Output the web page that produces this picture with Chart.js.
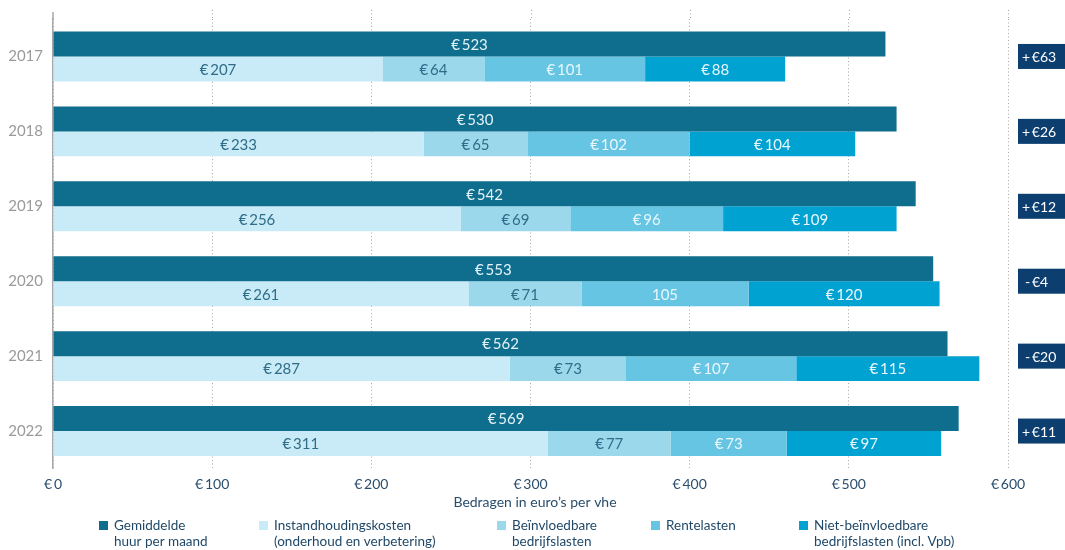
<!DOCTYPE html>
<html>
<head>
<meta charset="utf-8">
<script src="https://cdn.jsdelivr.net/npm/chart.js@4.4.1/dist/chart.umd.min.js"></script>
<style>
  html, body { margin: 0; padding: 0; background: #ffffff; }
  #wrap { width: 1065px; height: 550px; position: relative; }
</style>
</head>
<body>
<div id="wrap"><canvas id="c" width="1065" height="550"></canvas></div>
<script>
// ---- data ----
const years = ['2017', '2018', '2019', '2020', '2021', '2022'];
const huur = [523, 530, 542, 553, 562, 569];
const instandhouding = [207, 233, 256, 261, 287, 311];
const beinvloedbaar = [64, 65, 69, 71, 73, 77];
const rentelasten = [101, 102, 96, 105, 107, 73];
const nietBeinvloedbaar = [88, 104, 109, 120, 115, 97];
const xTicks = [0, 100, 200, 300, 400, 500, 600];
const legendLabels = [
  ['Gemiddelde', 'huur per maand'],
  ['Instandhoudingskosten', '(onderhoud en verbetering)'],
  ['Beïnvloedbare', 'bedrijfslasten'],
  ['Rentelasten'],
  ['Niet-beïnvloedbare', 'bedrijfslasten (incl. Vpb)']
];
const axisTitle = 'Bedragen in euro\u2019s per vhe';
// labels printed without euro sign in the original (dataset index, year index)
const noEuroLabels = [[3, 3]];

const FONT = 'Lato, "Open Sans", sans-serif';
const colors = ['#0f6e8d', '#c9eaf7', '#9bd8ec', '#66c5e3', '#00a2d2'];
const labelColors = ['#e3f2f8', '#2f6d88', '#2f6d88', '#e9f7fc', '#e9f7fc'];

const seriesData = [huur, instandhouding, beinvloedbaar, rentelasten, nietBeinvloedbaar];
const datasets = seriesData.map((arr, i) => ({
  label: legendLabels[i].join(' '),
  data: arr,
  backgroundColor: colors[i],
  stack: i === 0 ? 'huur' : 'kosten',
  categoryPercentage: 0.667,
  barPercentage: 1.0,
  borderWidth: 0
}));

// extend grid lines and axis line slightly above the plot area, as in the original
const gridExtend = {
  id: 'gridExtend',
  beforeDatasetsDraw(chart) {
    const ctx = chart.ctx;
    const xs = chart.scales.x;
    const top = chart.chartArea.top;
    ctx.save();
    ctx.strokeStyle = '#a9a9a9';
    ctx.lineWidth = 1;
    ctx.setLineDash([1, 2.5]);
    xTicks.forEach(v => {
      if (v === 0) return;
      const px = Math.round(xs.getPixelForValue(v)) + 0.5;
      ctx.beginPath();
      ctx.moveTo(px, 10);
      ctx.lineTo(px, top);
      ctx.stroke();
    });
    ctx.setLineDash([]);
    ctx.strokeStyle = '#a8a8a8';
    ctx.lineWidth = 1.5;
    const ax = chart.chartArea.left;
    ctx.beginPath();
    ctx.moveTo(ax, 12);
    ctx.lineTo(ax, top);
    ctx.stroke();
    ctx.restore();
  }
};

const barLabels = {
  id: 'barLabels',
  afterDatasetsDraw(chart) {
    const ctx = chart.ctx;
    ctx.save();
    ctx.font = '15px ' + FONT;
    ctx.textAlign = 'center';
    ctx.textBaseline = 'middle';
    chart.data.datasets.forEach((ds, di) => {
      const meta = chart.getDatasetMeta(di);
      meta.data.forEach((el, i) => {
        const v = ds.data[i];
        const noEuro = noEuroLabels.some(p => p[0] === di && p[1] === i);
        const txt = noEuro ? String(v) : '\u20AC\u2009' + v;
        ctx.fillStyle = labelColors[di];
        ctx.fillText(txt, (el.x + el.base) / 2, el.y + 1);
      });
    });
    ctx.restore();
  }
};

const sideBoxes = {
  id: 'sideBoxes',
  afterDraw(chart) {
    const ctx = chart.ctx;
    const ys = chart.scales.y;
    ctx.save();
    ctx.font = '14px ' + FONT;
    ctx.textBaseline = 'middle';
    ctx.textAlign = 'left';
    years.forEach((yr, i) => {
      const cost = instandhouding[i] + beinvloedbaar[i] + rentelasten[i] + nietBeinvloedbaar[i];
      const d = huur[i] - cost;
      const txt = (d >= 0 ? '+' : '-') + '\u2009\u20AC' + Math.abs(d);
      const yc = ys.getPixelForValue(i);
      ctx.fillStyle = '#0c3e6f';
      ctx.fillRect(1018, yc - 12.5, 60, 25);
      ctx.fillStyle = '#ffffff';
      ctx.fillText(txt, d >= 0 ? 1022 : 1025, yc + 1);
    });
    ctx.restore();
  }
};

const bottomLegend = {
  id: 'bottomLegend',
  afterDraw(chart) {
    const ctx = chart.ctx;
    ctx.save();
    ctx.font = '14px ' + FONT;
    ctx.fillStyle = '#2a4d6b';
    ctx.textAlign = 'center';
    ctx.textBaseline = 'middle';
    ctx.fillText(axisTitle, 535, 502);
    ctx.font = '13.5px ' + FONT;
    const sq = [99, 259, 497, 651, 799];
    ctx.textAlign = 'left';
    chart.data.datasets.forEach((ds, i) => {
      ctx.fillStyle = ds.backgroundColor;
      ctx.fillRect(sq[i], 521, 9, 9);
      ctx.fillStyle = '#1f4868';
      legendLabels[i].forEach((line, li) => {
        ctx.fillText(line, sq[i] + 15, 526 + li * 16);
      });
    });
    ctx.restore();
  }
};

new Chart(document.getElementById('c'), {
  type: 'bar',
  data: { labels: years, datasets },
  options: {
    indexAxis: 'y',
    responsive: false,
    animation: false,
    layout: { padding: { top: 18.5, right: 57, left: 0, bottom: 0 } },
    plugins: {
      legend: { display: false },
      tooltip: { enabled: false }
    },
    scales: {
      x: {
        min: 0,
        max: 600,
        afterBuildTicks(scale) { scale.ticks = xTicks.map(v => ({ value: v })); },
        afterFit(scale) { scale.height = 81.5; },
        grid: {
          display: true,
          color: '#a9a9a9',
          lineWidth: 1,
          drawTicks: false,
          tickLength: 0
        },
        border: { display: false, dash: [1, 2.5] },
        ticks: {
          padding: 8,
          color: '#2b4f6e',
          font: { family: FONT, size: 14 },
          callback: v => '\u20AC\u2009' + v
        }
      },
      y: {
        stacked: true,
        afterFit(scale) { scale.width = 53; },
        grid: { display: false, drawTicks: false },
        border: { display: true, color: '#a8a8a8', width: 1.5 },
        ticks: {
          padding: 10,
          color: '#9a9a9a',
          font: { family: FONT, size: 15 }
        }
      }
    }
  },
  plugins: [gridExtend, barLabels, sideBoxes, bottomLegend]
});
</script>
</body>
</html>
